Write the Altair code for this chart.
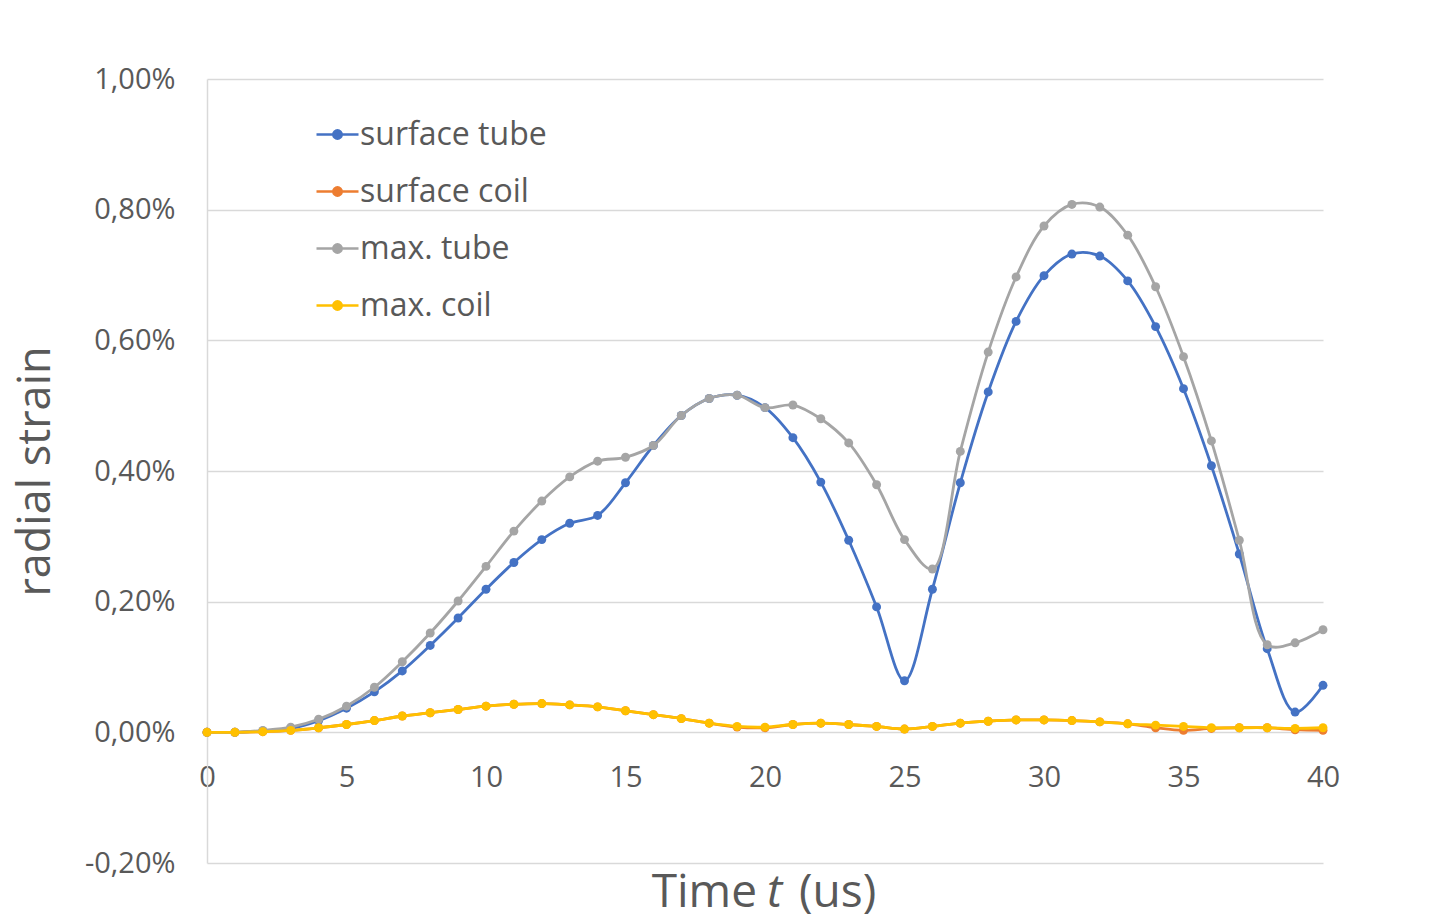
import altair as alt
import pandas as pd

t = list(range(0, 41))

surface_tube = [0.000, 0.000, 0.002, 0.006, 0.018, 0.037, 0.062, 0.094, 0.133, 0.175,
                0.219, 0.260, 0.295, 0.320, 0.332, 0.382, 0.439, 0.485, 0.511, 0.516,
                0.497, 0.451, 0.383, 0.294, 0.192, 0.079, 0.219, 0.382, 0.521, 0.629,
                0.699, 0.732, 0.729, 0.691, 0.621, 0.526, 0.408, 0.273, 0.128, 0.031,
                0.072]
surface_coil = [0.000, 0.000, 0.001, 0.003, 0.007, 0.012, 0.018, 0.025, 0.030, 0.035,
                0.040, 0.043, 0.044, 0.042, 0.039, 0.033, 0.027, 0.021, 0.014, 0.008,
                0.007, 0.012, 0.014, 0.012, 0.009, 0.005, 0.009, 0.014, 0.017, 0.019,
                0.019, 0.018, 0.016, 0.013, 0.007, 0.003, 0.006, 0.007, 0.007, 0.004,
                0.003]
max_tube = [0.000, 0.000, 0.003, 0.008, 0.020, 0.040, 0.069, 0.108, 0.152, 0.201,
            0.254, 0.308, 0.354, 0.391, 0.415, 0.421, 0.439, 0.485, 0.511, 0.516,
            0.497, 0.501, 0.480, 0.443, 0.379, 0.295, 0.250, 0.430, 0.582, 0.697,
            0.775, 0.808, 0.804, 0.761, 0.682, 0.575, 0.446, 0.294, 0.134, 0.137,
            0.157]
max_coil = [0.000, 0.000, 0.001, 0.003, 0.007, 0.012, 0.018, 0.025, 0.030, 0.035,
            0.040, 0.043, 0.044, 0.042, 0.039, 0.033, 0.027, 0.021, 0.014, 0.009,
            0.008, 0.012, 0.014, 0.012, 0.009, 0.005, 0.009, 0.014, 0.017, 0.019,
            0.019, 0.018, 0.016, 0.013, 0.011, 0.009, 0.007, 0.007, 0.007, 0.006,
            0.007]

series_names = ["surface tube", "surface coil", "max. tube", "max. coil"]
series_values = [surface_tube, surface_coil, max_tube, max_coil]
series_colors = ["#4472C4", "#ED7D31", "#A5A5A5", "#FFC000"]

x_ticks = [0, 5, 10, 15, 20, 25, 30, 35, 40]
y_ticks = [-0.2, 0.0, 0.2, 0.4, 0.6, 0.8, 1.0]

# x-axis title parts (the "t" is italic in the original)
title_parts = ["Time", "t", "(us)"]

rows = []
for name, vals in zip(series_names, series_values):
    for ti, v in zip(t, vals):
        rows.append({"t": ti, "strain": v, "series": name})
df = pd.DataFrame(rows)

FONT = "Open Sans"
TXT = "#595959"
W, H = 1116, 784

color_scale = alt.Scale(domain=series_names, range=series_colors)
legend = alt.Legend(
    title=None, orient="none", legendX=108, legendY=33,
    symbolType="M-1,0H1M-0.2,0a0.2,0.2 0 1,0 0.4,0a0.2,0.2 0 1,0 -0.4,0",
    symbolSize=1764, symbolStrokeWidth=2.5,
    labelFont=FONT, labelFontSize=32, labelColor=TXT, labelOffset=0,
    labelLimit=0, rowPadding=18,
)

x_enc = alt.X(
    "t:Q",
    scale=alt.Scale(domain=[0, 40], nice=False, zero=False),
    axis=alt.Axis(
        values=x_ticks, offset=-H * 0.2 / 1.2, domain=False, ticks=False, grid=False,
        labelFont=FONT, labelFontSize=29, labelColor=TXT, labelPadding=31,
        labelFlush=False, labelBound=False, title=None,
    ),
)
y_enc = alt.Y(
    "strain:Q",
    scale=alt.Scale(domain=[-0.2, 1.0], nice=False, zero=False),
    axis=alt.Axis(
        values=y_ticks,
        labelExpr="replace(replace(format(datum.value, '.2f'), '.', ','), '\u2212', '-') + '%'",
        grid=True, gridColor="#D9D9D9", gridWidth=1.3,
        domain=True, domainColor="#D9D9D9", domainWidth=1.5, ticks=False,
        labelFont=FONT, labelFontSize=29, labelColor=TXT, labelPadding=32,
        title="radial strain", titleFont=FONT, titleFontSize=45, titleFontWeight="normal",
        titleColor=TXT, titleX=-172, titleY=H / 2, titleAngle=-90,
        titleAlign="center", titleBaseline="middle",
    ),
)

layers = []
for name in series_names:
    base = alt.Chart(df).transform_filter(alt.datum.series == name)
    color = alt.Color("series:N", scale=color_scale, legend=legend)
    layers.append(
        base.mark_line(interpolate="catmull-rom", strokeWidth=2.8).encode(
            x=x_enc, y=y_enc, color=color)
    )
    layers.append(
        base.mark_circle(size=80, opacity=1).encode(x=x_enc, y=y_enc, color=color)
    )

# x-axis title as text with an italic "t"
one = pd.DataFrame({"k": [0]})
title_base = alt.Chart(one)
tstyle = dict(font=FONT, fontSize=46, color=TXT, baseline="alphabetic")
TY = 828
layers.append(title_base.mark_text(text=title_parts[0], align="right", **tstyle).encode(
    x=alt.value(550), y=alt.value(TY)))
layers.append(title_base.mark_text(text=title_parts[1], align="left", fontStyle="italic",
                                   **tstyle).encode(x=alt.value(560), y=alt.value(TY)))
layers.append(title_base.mark_text(text=title_parts[2], align="left", **tstyle).encode(
    x=alt.value(592), y=alt.value(TY)))

chart = alt.layer(*layers).properties(
    width=W, height=H,
    autosize=alt.AutoSizeParams(type="none"),
    padding={"left": 207, "top": 79, "right": 128, "bottom": 55},
    background="white",
).configure_view(stroke=None)

chart.save("out.html", embed_options={"renderer": "svg", "actions": False})
